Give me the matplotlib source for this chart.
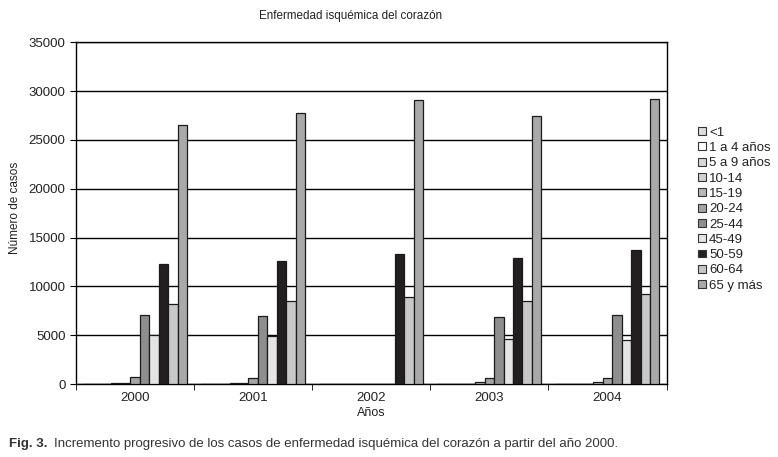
import numpy as np
import matplotlib
matplotlib.use("Agg")
import matplotlib.pyplot as plt

plt.rcParams['font.family'] = ['Liberation Sans', 'DejaVu Sans']

years = ['2000', '2001', '2002', '2003', '2004']
age_groups = ['<1', '1 a 4 años', '5 a 9 años', '10-14', '15-19', '20-24',
              '25-44', '45-49', '50-59', '60-64', '65 y más']

# casos por grupo de edad, un valor por año
v_lt1 = [10, 10, 0, 0, 0]
v_1_4 = [10, 10, 0, 0, 0]
v_5_9 = [20, 20, 0, 0, 0]
v_10_14 = [80, 80, 0, 20, 20]
v_15_19 = [80, 80, 0, 200, 200]
v_20_24 = [700, 600, 0, 600, 600]
v_25_44 = [7100, 7000, 0, 6900, 7100]
v_45_49 = [5000, 4950, 0, 4600, 4550]
v_50_59 = [12300, 12600, 13300, 12900, 13700]
v_60_64 = [8150, 8450, 8900, 8550, 9250]
v_65 = [26500, 27800, 29100, 27400, 29200]

series = [v_lt1, v_1_4, v_5_9, v_10_14, v_15_19, v_20_24,
          v_25_44, v_45_49, v_50_59, v_60_64, v_65]
colors = ['#dcdcdc', '#ffffff', '#d8d8d8', '#d0d0d0', '#b8b8b8', '#a4a4a4',
          '#8e8e8e', '#e4e4e4', '#231f20', '#c8c8c8', '#a9a9a9']

fig = plt.figure(figsize=(7.78, 4.57), dpi=100)
ax = fig.add_axes([0.0977, 0.1597, 0.759, 0.748])

n = len(series)
group_w = n / (n + 1.5)
bw = group_w / n
x = np.arange(len(years))
for i, (vals, col, lab) in enumerate(zip(series, colors, age_groups)):
    ax.bar(x - group_w / 2 + bw * (i + 0.5), vals, width=bw, color=col,
           edgecolor='#1a1a1a', linewidth=0.9, label=lab, zorder=3)

ax.set_xlim(-0.5, len(years) - 0.5)
ax.set_ylim(0, 35000)
ax.set_yticks(np.arange(0, 35001, 5000))
ax.yaxis.grid(True, color='black', linewidth=1, zorder=0)
ax.set_xticks(x)
ax.set_xticklabels(years)
ax.set_xticks(np.arange(-0.5, len(years)), minor=True)
ax.tick_params(axis='x', which='major', length=0, labelsize=9.5, pad=6,
               labelcolor='#222222')
ax.tick_params(axis='x', which='minor', length=4, direction='out')
ax.tick_params(axis='y', labelsize=9.5, length=4, direction='out',
               labelcolor='#222222')
for s in ax.spines.values():
    s.set_linewidth(1)

ax.set_xlabel('Años', fontsize=9, labelpad=2, color='#222222')
ax.set_ylabel('Número de casos', fontsize=8.5, color='#222222')
ax.yaxis.set_label_coords(-0.093, 0.515)
fig.text(0.45, 0.965, 'Enfermedad isquémica del corazón', ha='center',
         va='center', fontsize=8.4, color='#222222')

leg = ax.legend(loc='upper left', bbox_to_anchor=(1.045, 0.768), frameon=False,
                fontsize=9.5, handlelength=0.55, handleheight=0.55,
                handletextpad=0.25, labelspacing=0.25, borderaxespad=0)
for t in leg.get_texts():
    t.set_color('#222222')
for h in leg.legend_handles:
    h.set_linewidth(0.8)
    h.set_edgecolor('#333333')

fig.text(0.012, 0.028, 'Fig. 3.', fontsize=9.5, fontweight='bold', va='center',
         color='#333333')
fig.text(0.069, 0.028, 'Incremento progresivo de los casos de enfermedad isquémica '
         'del corazón a partir del año 2000.', fontsize=9.5, va='center',
         color='#333333')

fig.savefig('out.png', dpi=100)
